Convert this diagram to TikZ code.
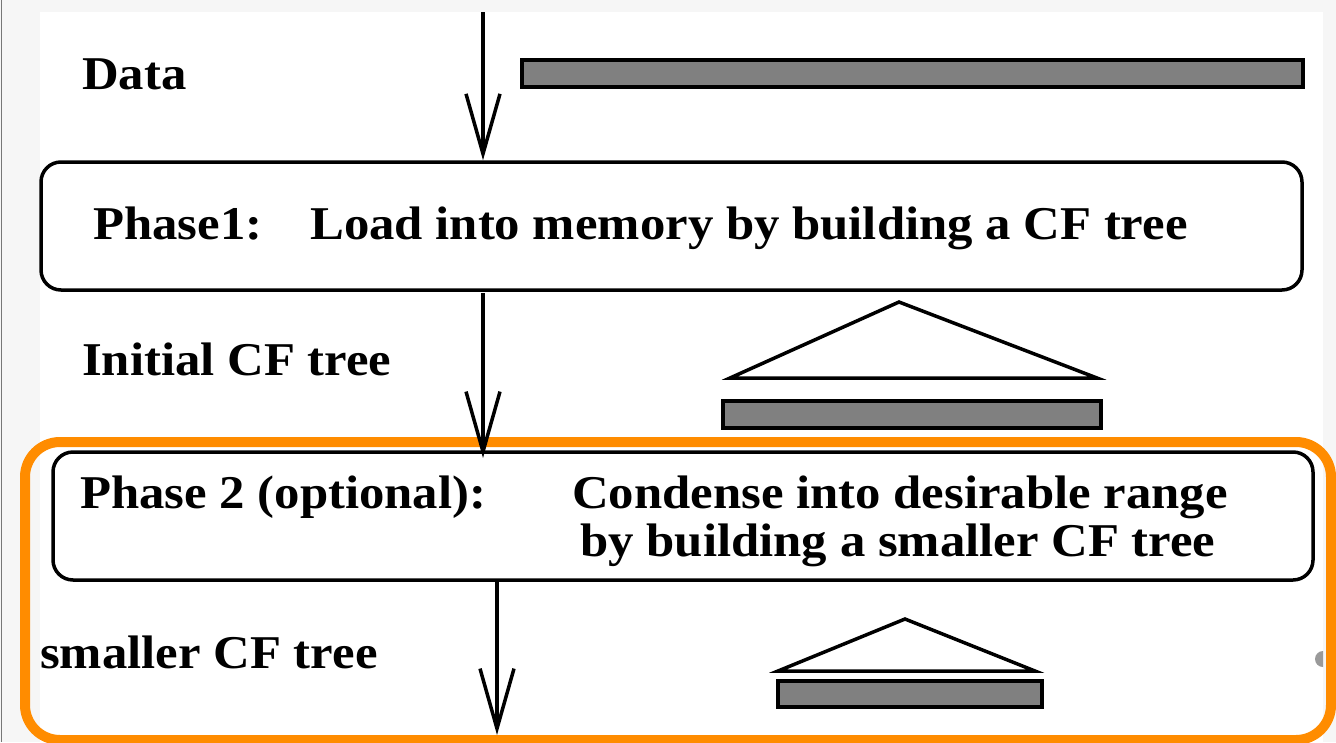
\documentclass[tikz,border=0pt]{standalone}
\usepackage{fontspec}
\setmainfont{Liberation Serif}[FakeStretch=1.08]
\usetikzlibrary{arrows.meta}

\definecolor{pagebg}{HTML}{F6F6F6}
\definecolor{edgegray}{HTML}{777777}
\definecolor{barfill}{HTML}{808080}
\definecolor{hilite}{HTML}{FF8C00}

\tikzset{
  lbl/.style={font=\fontsize{47}{52}\selectfont\bfseries, inner sep=0pt, anchor=base west},
  clbl/.style={lbl, anchor=base},
  phasebox/.style={draw, line width=3.5pt, rounded corners=20pt, inner sep=0pt},
  databar/.style={draw, fill=barfill, line width=3.5pt, inner sep=0pt},
  treeshape/.style={draw, line width=3.5pt, line join=miter},
  flow/.style={line width=3.5pt, -{Straight Barb[length=60pt, width=34pt, line width=3.5pt]}},
}

\begin{document}
\begin{tikzpicture}[x=1pt, y=-1pt]
\useasboundingbox (0,0) rectangle (1336,742);
\fill[pagebg] (0,0) rectangle (1336,742);
\fill[white] (40,12) rectangle (1323,742);
\draw[edgegray, line width=1.5pt] (1.5,0) -- (1.5,742);

% raw data
\node[lbl] (datalbl) at (82,89) {Data};
\node[databar, minimum width=781pt, minimum height=27pt] (bar0) at (912.5,73.5) {};

% phase 1
\node[phasebox, minimum width=1261pt, minimum height=128pt] (p1) at (671.5,226) {};
\node[lbl] (p1name) at (93,239) {Phase1:};
\node[lbl] (p1text) at (310,239) {Load into memory by building a CF tree};

\coordinate (in0) at (483,12);
\draw[flow] (in0) -- (in0 |- p1.north);

% initial CF tree
\node[lbl] (initlbl) at (82,375) {Initial CF tree};
\draw[treeshape] (899,302) -- (1097,378) -- (730,378) -- cycle;
\node[databar, minimum width=378pt, minimum height=27pt] (bar1) at (912,414.5) {};

% optional phase 2 frame
\draw[hilite, line width=10pt, rounded corners=35pt] (25,442) rectangle (1331,740);

\node[phasebox, minimum width=1260pt, minimum height=128pt] (p2) at (683,516) {};
\node[lbl] (p2name) at (80,508) {Phase 2 (optional):};
\node[clbl] (p2line1) at (900,508) {Condense into desirable range};
\node[clbl] (p2line2) at (898,556) {by building a smaller CF tree};

\coordinate (a1) at (483,293);
\coordinate (a1end) at (483,458);
\draw[flow] (a1) -- (a1end);

% smaller CF tree
\node[lbl] (smalllbl) at (40,668) {smaller CF tree};
\draw[treeshape] (905,619) -- (1035,671) -- (778,671) -- cycle;
\node[databar, minimum width=264pt, minimum height=26pt] (bar2) at (910,694) {};

\coordinate (a2) at (497,581);
\coordinate (a2end) at (497,735);
\draw[flow] (a2) -- (a2end);

\fill[barfill!80] (1323,651) arc[start angle=90, end angle=270, radius=8pt] -- cycle;
\end{tikzpicture}
\end{document}
